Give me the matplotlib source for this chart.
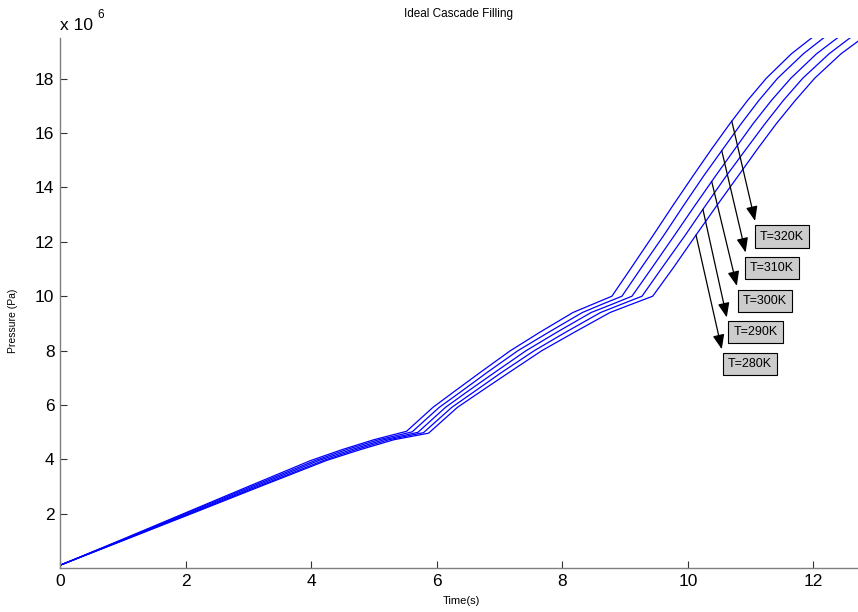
import numpy as np
import matplotlib
matplotlib.use("Agg")
import matplotlib.pyplot as plt
from matplotlib.ticker import FuncFormatter

plt.rcParams['font.family'] = ['Liberation Sans', 'DejaVu Sans']

# Cascade filling simulation output: time (s) and receiver pressure (x 1e6 Pa)
# one curve per gas temperature
temps = ["T=320K", "T=310K", "T=300K", "T=290K", "T=280K"]

t_320 = [0, 1, 2, 3, 4, 4.5, 5.0, 5.52,
         5.94, 6.26, 6.69, 7.17, 7.64, 8.17, 8.49, 8.79,
         9.10, 9.45, 9.76, 10.08, 10.38, 10.67, 10.95, 11.25, 11.65, 11.97, 12.30]
p_320 = [0.10, 1.06, 2.03, 3.00, 3.96, 4.36, 4.72, 5.03,
         5.91, 6.46, 7.19, 7.99, 8.67, 9.40, 9.71, 10.00,
         11.05, 12.25, 13.33, 14.42, 15.42, 16.35, 17.20, 18.02, 18.92, 19.50, 19.95]

t_310 = [0, 1.02, 2.03, 3.05, 4.07, 4.57, 5.08, 5.61,
         6.04, 6.37, 6.80, 7.29, 7.78, 8.32, 8.64, 8.95,
         9.26, 9.62, 9.93, 10.25, 10.56, 10.85, 11.13, 11.43, 11.84, 12.16, 12.49]
p_310 = [0.10, 1.06, 2.03, 3.00, 3.96, 4.36, 4.72, 5.01,
         5.91, 6.46, 7.19, 7.99, 8.67, 9.40, 9.71, 10.00,
         11.05, 12.25, 13.33, 14.42, 15.42, 16.35, 17.20, 18.02, 18.92, 19.50, 19.95]

t_300 = [0, 1.03, 2.07, 3.10, 4.13, 4.65, 5.16, 5.70,
         6.14, 6.47, 6.92, 7.42, 7.91, 8.46, 8.80, 9.11,
         9.43, 9.79, 10.11, 10.44, 10.75, 11.04, 11.33, 11.64, 12.05, 12.38, 12.72]
p_300 = [0.10, 1.06, 2.03, 3.00, 3.96, 4.36, 4.72, 4.99,
         5.91, 6.46, 7.19, 7.99, 8.67, 9.40, 9.71, 10.00,
         11.05, 12.25, 13.33, 14.42, 15.42, 16.35, 17.20, 18.02, 18.92, 19.50, 19.95]

t_290 = [0, 1.05, 2.10, 3.15, 4.20, 4.72, 5.24, 5.79,
         6.24, 6.58, 7.03, 7.55, 8.05, 8.61, 8.95, 9.27,
         9.59, 9.96, 10.28, 10.61, 10.93, 11.23, 11.52, 11.83, 12.25, 12.58, 12.92]
p_290 = [0.10, 1.06, 2.03, 3.00, 3.96, 4.36, 4.72, 4.98,
         5.91, 6.46, 7.19, 7.99, 8.67, 9.40, 9.71, 10.00,
         11.05, 12.25, 13.33, 14.42, 15.42, 16.35, 17.20, 18.02, 18.92, 19.50, 19.95]

t_280 = [0, 1.06, 2.13, 3.19, 4.25, 4.79, 5.32, 5.87,
         6.33, 6.68, 7.15, 7.67, 8.19, 8.76, 9.11, 9.44,
         9.77, 10.13, 10.46, 10.80, 11.11, 11.41, 11.71, 12.02, 12.44, 12.78, 13.13]
p_280 = [0.10, 1.06, 2.03, 3.00, 3.96, 4.36, 4.72, 4.96,
         5.91, 6.46, 7.19, 7.99, 8.67, 9.40, 9.71, 10.00,
         11.05, 12.25, 13.33, 14.42, 15.42, 16.35, 17.20, 18.02, 18.92, 19.50, 19.95]

series_t = [t_320, t_310, t_300, t_290, t_280]
series_p = [p_320, p_310, p_300, p_290, p_280]

x_ticks = [0, 2, 4, 6, 8, 10, 12]
y_ticks = [2, 4, 6, 8, 10, 12, 14, 16, 18]

# annotation layout (data units): arrow tail time on each curve, arrow head, label centre
tail_t = [10.70, 10.54, 10.38, 10.24, 10.13]
head_xy = [(11.07, 12.77), (10.92, 11.61), (10.78, 10.38), (10.62, 9.22), (10.54, 8.05)]
label_xy = [(11.50, 12.19), (11.34, 11.03), (11.23, 9.82), (11.08, 8.68), (10.99, 7.50)]

fig = plt.figure(figsize=(8.58, 6.12), dpi=100)
ax = fig.add_axes([0.0699, 0.0719, 0.9301, 0.866])

for t, p in zip(series_t, series_p):
    ax.plot(t, np.asarray(p) * 1e6, color=(0, 0, 1), lw=0.9)

ax.set_xlim(0, 12.71)
ax.set_ylim(0, 19.5e6)
ax.set_xticks(x_ticks)
ax.set_yticks([v * 1e6 for v in y_ticks])
ax.yaxis.set_major_formatter(FuncFormatter(lambda v, pos: f"{v / 1e6:g}"))
ax.xaxis.set_major_formatter(FuncFormatter(lambda v, pos: f"{v:g}"))

for side in ("top", "right"):
    ax.spines[side].set_visible(False)
for side in ("left", "bottom"):
    ax.spines[side].set_color("#7f7f7f")
    ax.spines[side].set_linewidth(1.0)
ax.tick_params(direction="in", length=5, width=0.8, color="#333333",
               labelsize=12.5, pad=4)

ax.set_title("Ideal Cascade Filling", fontsize=8.5, pad=15)
ax.set_xlabel("Time(s)", fontsize=8)
ax.xaxis.set_label_coords(0.503, -0.053)
ax.set_ylabel("Pressure (Pa)", fontsize=7.5)
ax.yaxis.set_label_coords(-0.053, 0.466)

# exponent marker above the pressure axis
ax.text(0.0, 1.01, "x 10", transform=ax.transAxes, fontsize=12.5,
        ha="left", va="bottom")
ax.text(0.047, 1.033, "6", transform=ax.transAxes, fontsize=8.5,
        ha="left", va="bottom")

for label, t, p, tt, hxy, lxy in zip(temps, series_t, series_p, tail_t, head_xy, label_xy):
    tail = (tt, np.interp(tt, t, p) * 1e6)
    head = (hxy[0], hxy[1] * 1e6)
    ax.annotate("", xy=head, xytext=tail,
                arrowprops=dict(arrowstyle="-|>,head_length=0.8,head_width=0.32",
                                mutation_scale=11, color="black", lw=0.9,
                                shrinkA=0, shrinkB=0))
    ax.text(lxy[0], lxy[1] * 1e6, label, fontsize=9, ha="center", va="center",
            bbox=dict(boxstyle="square,pad=0.42", fc="#cccccc", ec="black", lw=0.8))

fig.savefig("out.png", dpi=100)
